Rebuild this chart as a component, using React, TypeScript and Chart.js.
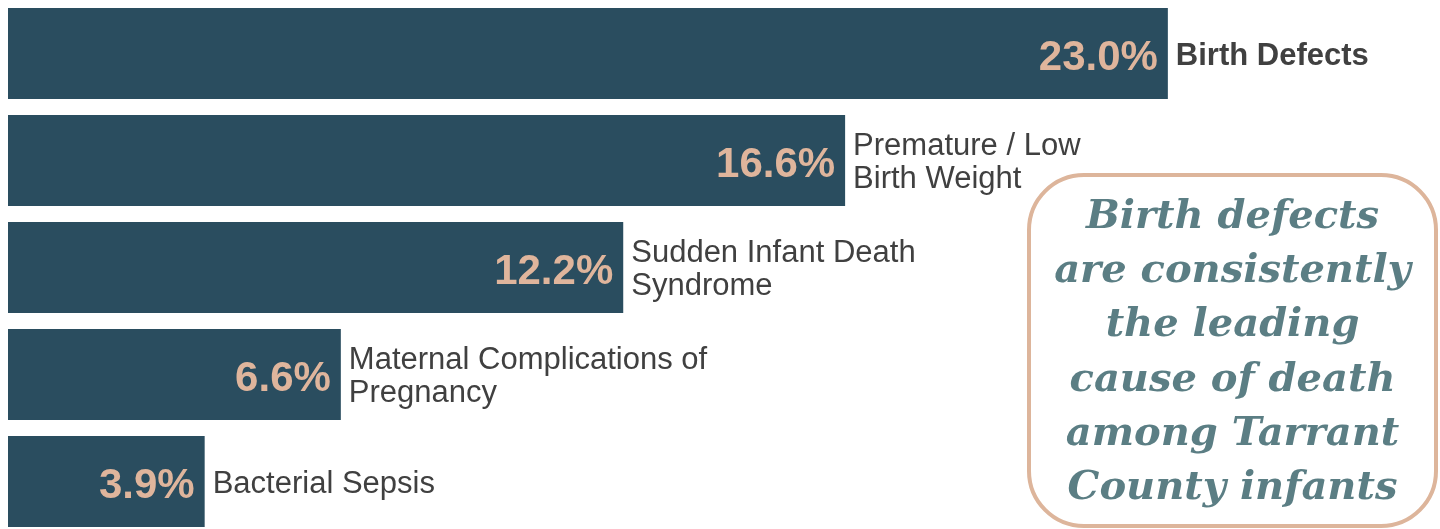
import React, { useEffect, useRef } from "react";
import { Chart, registerables } from "chart.js";

Chart.register(...registerables);

const categories: string[][] = [
  ["Birth Defects"],
  ["Premature / Low", "Birth Weight"],
  ["Sudden Infant Death", "Syndrome"],
  ["Maternal Complications of", "Pregnancy"],
  ["Bacterial Sepsis"],
];
const values: number[] = [23.0, 16.6, 12.2, 6.6, 3.9];
const valueLabels: string[] = ["23.0%", "16.6%", "12.2%", "6.6%", "3.9%"];
const highlightIndex = 0;
const calloutLines: string[] = [
  "Birth defects",
  "are consistently",
  "the leading",
  "cause of death",
  "among Tarrant",
  "County infants",
];

const BAR_COLOR = "#2a4d5f";
const VALUE_COLOR = "#dfb59c";
const LABEL_COLOR = "#404040";
const CALLOUT_TEXT = "#5b7e84";
const CALLOUT_BORDER = "#ddb59b";

const labelPlugin = {
  id: "barLabels",
  afterDatasetsDraw(chart: any) {
    const ctx = chart.ctx as CanvasRenderingContext2D;
    const meta = chart.getDatasetMeta(0);
    ctx.save();
    meta.data.forEach((el: any, i: number) => {
      const x = el.x;
      const y = el.y;
      ctx.font = 'bold 42px "Liberation Sans", Arial, sans-serif';
      ctx.fillStyle = VALUE_COLOR;
      ctx.textAlign = "right";
      ctx.textBaseline = "alphabetic";
      ctx.fillText(valueLabels[i], x - 10, y + 16);

      const lines = categories[i];
      const lh = 33;
      ctx.font = (i === highlightIndex ? "bold " : "") + '31px "Liberation Sans", Arial, sans-serif';
      ctx.fillStyle = LABEL_COLOR;
      ctx.textAlign = "left";
      const start = y - ((lines.length - 1) * lh) / 2 + 11;
      lines.forEach((ln, k) => {
        ctx.fillText(ln, x + 8, start + k * lh);
      });
    });

    // callout box
    const bx = 1029, by = 175, bw = 407, bh = 351, r = 55;
    ctx.beginPath();
    (ctx as any).roundRect(bx, by, bw, bh, r);
    ctx.lineWidth = 4;
    ctx.strokeStyle = CALLOUT_BORDER;
    ctx.stroke();
    ctx.font = 'italic bold 40px "DejaVu Serif", Georgia, serif';
    ctx.fillStyle = CALLOUT_TEXT;
    ctx.textAlign = "center";
    ctx.textBaseline = "alphabetic";
    calloutLines.forEach((ln, k) => {
      ctx.fillText(ln, bx + bw / 2, 228 + k * 54.2);
    });
    ctx.restore();
  },
};

export default function App() {
  const ref = useRef<HTMLCanvasElement | null>(null);
  useEffect(() => {
    if (!ref.current) return;
    const chart = new Chart(ref.current, {
      type: "bar",
      data: {
        labels: categories.map((c) => c.join(" ")),
        datasets: [
          {
            data: values,
            backgroundColor: BAR_COLOR,
            borderWidth: 0,
            barPercentage: 0.85,
            categoryPercentage: 1,
          },
        ],
      },
      options: {
        indexAxis: "y",
        responsive: false,
        animation: false,
        devicePixelRatio: 1,
        layout: { padding: { left: 8, right: 20, top: 0, bottom: 0 } },
        plugins: { legend: { display: false }, tooltip: { enabled: false } },
        scales: {
          x: { min: 0, max: 28, display: false, grid: { display: false } },
          y: { display: false, grid: { display: false } },
        },
      },
      plugins: [labelPlugin],
    });
    return () => chart.destroy();
  }, []);
  return (
    <div style={{ position: "fixed", left: 0, top: 0, width: 1440, height: 529, overflow: "hidden", background: "#fff" }}>
      <canvas ref={ref} width={1440} height={535} style={{ display: "block" }} />
    </div>
  );
}
